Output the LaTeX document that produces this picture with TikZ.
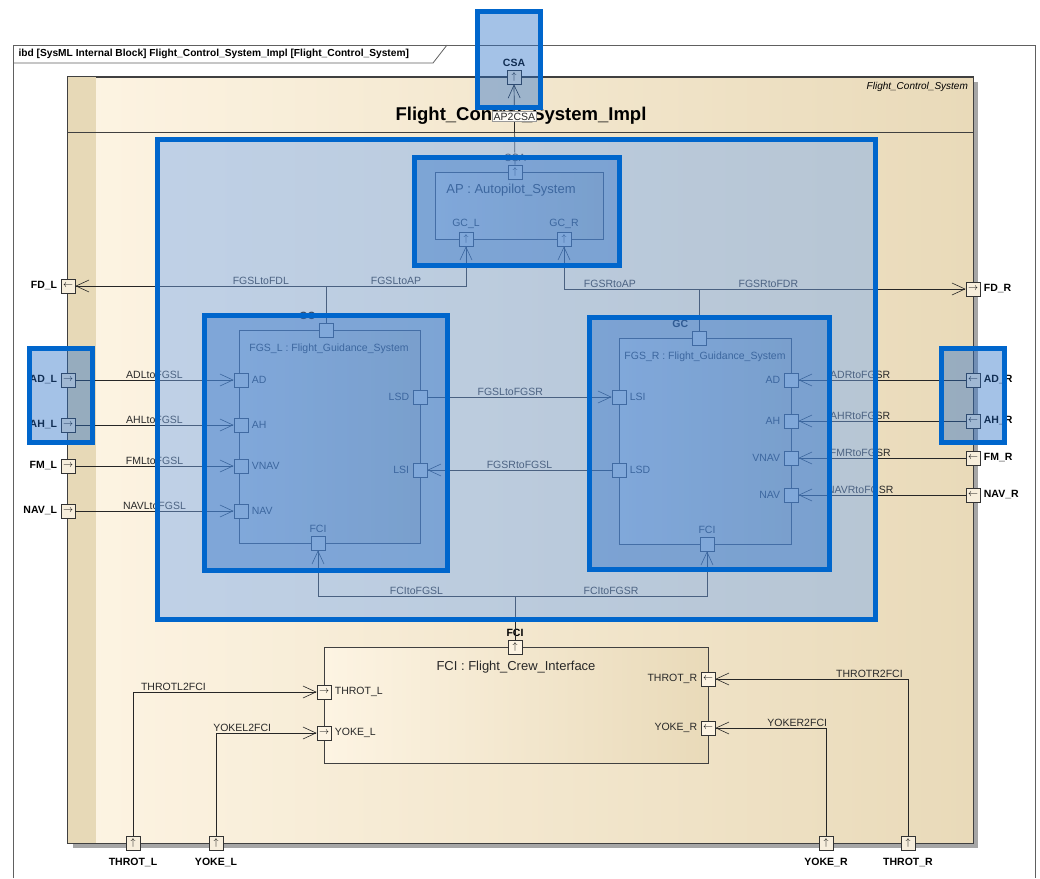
\documentclass[tikz,border=0pt]{standalone}
\usepackage{fontspec}
\setmainfont{Liberation Sans}
\usetikzlibrary{arrows.meta, positioning, calc}
\definecolor{frameC} {RGB}{ 96, 96, 96}
\definecolor{blockL} {RGB}{253,244,227}
\definecolor{blockR} {RGB}{233,218,185}
\definecolor{stripeC}{RGB}{231,217,183}
\definecolor{portC}  {RGB}{247,238,220}
\definecolor{hiC}    {RGB}{  0,102,204}
\definecolor{hiFill} {RGB}{120,170,240}
\definecolor{hiFillB}{RGB}{ 40,110,200}
\definecolor{txtC}   {RGB}{ 40, 40, 40}
\tikzset{
  blk/.style    = {rectangle, draw=black!75, line width=0.8pt, inner sep=0pt,
                   left color=blockL, right color=blockR},
  btitle/.style = {font=\fontsize{13}{15}\selectfont, text=txtC},
  stitle/.style = {font=\fontsize{10.5}{12}\selectfont, text=txtC},
  port/.style   = {rectangle, draw=black!80, fill=portC, line width=0.7pt,
                   minimum size=14pt, inner sep=0pt, font=\fontsize{10}{10}\selectfont},
  iport/.style  = {port, fill=blockL},
  plbl/.style   = {font=\fontsize{10.5}{12}\selectfont, text=txtC},
  xlbl/.style   = {font=\bfseries\fontsize{10.5}{12}\selectfont, text=black},
  conn/.style   = {draw=black!85, line width=0.7pt},
  flow/.style   = {conn, -{Straight Barb[length=13pt, width=12pt, line width=0.6pt]}},
  clbl/.style   = {font=\fontsize{10.5}{12}\selectfont, text=txtC, inner sep=1.5pt},
  hilite/.style = {draw=hiC, line width=5pt, fill=hiFill, fill opacity=0.45},
  hiliteB/.style= {draw=hiC, line width=5pt, fill=hiFillB, fill opacity=0.42},
}

\begin{document}
\begin{tikzpicture}[x=1pt, y=-1pt]
\useasboundingbox (0,0) rectangle (1040,878);
\fill[white] (0,0) rectangle (1040,878);

% ---- Diagram frame ----------------------------------------------------------
\draw[frameC, line width=0.8pt] (13,878) -- (13,45) -- (1035,45) -- (1035,878);
\draw[frameC, line width=0.8pt] (13,63) -- (433,63) -- (447,45);
\node[font=\bfseries\fontsize{10.2}{11}\selectfont, anchor=west] (hdr) at (15,54)
  {ibd [SysML Internal Block] Flight\_Control\_System\_Impl [Flight\_Control\_System]};

% ---- Main block -------------------------------------------------------------
\fill[black!35] (73,82) rectangle (978,848);
\node[blk, minimum width=905pt, minimum height=766pt] (fcs) at (520.5,460) {};
\fill[stripeC] (fcs.north west) rectangle (96,843);
\draw[black!75, line width=0.8pt] (fcs.north west) rectangle (fcs.south east);
\draw[black!75, line width=0.8pt] (fcs.west |- 0,132) -- (fcs.east |- 0,132);
\node[font=\itshape\fontsize{10}{12}\selectfont, anchor=north east] (fcsT)
  at ($(fcs.north east)+(-2,2)$) {Flight\_Control\_System};
\node[font=\bfseries\fontsize{18.5}{20}\selectfont] (fcsN) at (521,116)
  {Flight\_Control\_System\_Impl};

% ---- Parts ------------------------------------------------------------------
\node[blk, minimum width=168pt, minimum height=67pt]  (ap)   at (519,205.5) {};
\node[btitle] at (511,190) {AP : Autopilot\_System};

\node[blk, minimum width=181pt, minimum height=213pt] (fgsl) at (329.5,436.5) {};
\node[stitle] at (329,349) {FGS\_L : Flight\_Guidance\_System};

\node[blk, minimum width=172pt, minimum height=206pt] (fgsr) at (705,441) {};
\node[stitle] at (705,357) {FGS\_R : Flight\_Guidance\_System};

\node[blk, minimum width=384pt, minimum height=116pt] (fci)  at (516,705) {};
\node[btitle] at (516,667) {FCI : Flight\_Crew\_Interface};

% ---- Boundary ports ---------------------------------------------------------
\node[port, label={[xlbl]above:CSA}]              (pCSA)   at (514,77)  {$\uparrow$};
\node[port, label={[xlbl]left:FD\_L}]             (pFDL)   at (68,286)  {$\leftarrow$};
\node[port, label={[xlbl]left:AD\_L}]             (pADL)   at (68,380)  {$\rightarrow$};
\node[port, label={[xlbl]left:AH\_L}]             (pAHL)   at (68,425)  {$\rightarrow$};
\node[port, label={[xlbl]left:FM\_L}]             (pFML)   at (68,466)  {$\rightarrow$};
\node[port, label={[xlbl]left:NAV\_L}]            (pNAVL)  at (68,511)  {$\rightarrow$};
\node[port, label={[xlbl]right:FD\_R}]            (pFDR)   at (973,289) {$\rightarrow$};
\node[port, label={[xlbl]right:AD\_R}]            (pADR)   at (973,380) {$\leftarrow$};
\node[port, label={[xlbl]right:AH\_R}]            (pAHR)   at (973,421) {$\leftarrow$};
\node[port, label={[xlbl]right:FM\_R}]            (pFMR)   at (973,458) {$\leftarrow$};
\node[port, label={[xlbl]right:NAV\_R}]           (pNAVR)  at (973,495) {$\leftarrow$};
\node[port, label={[xlbl, label distance=4pt]below:THROT\_L}] (pTHL) at (133,843) {$\uparrow$};
\node[port, label={[xlbl, label distance=4pt]below:YOKE\_L}]  (pYKL) at (216,843) {$\uparrow$};
\node[port, label={[xlbl, label distance=4pt]below:YOKE\_R}]  (pYKR) at (826,843) {$\uparrow$};
\node[port, label={[xlbl, label distance=4pt]below:THROT\_R}] (pTHR) at (908,843) {$\uparrow$};

% ---- Part ports -------------------------------------------------------------
\node[iport, label={[plbl]above:CSA}]  (aCSA) at (515,172) {$\uparrow$};
\node[iport, label={[plbl]above:GC\_L}] (aGCL) at (466,239) {$\uparrow$};
\node[iport, label={[plbl]above:GC\_R}] (aGCR) at (564,239) {$\uparrow$};

\node[iport, label={[xlbl]above left:GC}] (lGC)   at (326,330) {};
\node[iport, label={[plbl]right:AD}]      (lAD)   at (241,380) {};
\node[iport, label={[plbl]right:AH}]      (lAH)   at (241,425) {};
\node[iport, label={[plbl]right:VNAV}]    (lVNAV) at (241,466) {};
\node[iport, label={[plbl]right:NAV}]     (lNAV)  at (241,511) {};
\node[iport, label={[plbl]left:LSD}]      (lLSD)  at (420,397) {};
\node[iport, label={[plbl]left:LSI}]      (lLSI)  at (420,470) {};
\node[iport, label={[plbl]above:FCI}]     (lFCI)  at (318,543) {};

\node[iport, label={[xlbl]above left:GC}] (rGC)   at (699,338) {};
\node[iport, label={[plbl]right:LSI}]     (rLSI)  at (619,397) {};
\node[iport, label={[plbl]right:LSD}]     (rLSD)  at (619,470) {};
\node[iport, label={[plbl]left:AD}]       (rAD)   at (791,380) {};
\node[iport, label={[plbl]left:AH}]       (rAH)   at (791,421) {};
\node[iport, label={[plbl]left:VNAV}]     (rVNAV) at (791,458) {};
\node[iport, label={[plbl]left:NAV}]      (rNAV)  at (791,495) {};
\node[iport, label={[plbl]above:FCI}]     (rFCI)  at (707,544) {};

\node[iport, label={[xlbl]above:FCI}]        (fFCI) at (515,647) {$\uparrow$};
\node[iport, label={[plbl]right:THROT\_L}]   (fTHL) at (324,692) {$\rightarrow$};
\node[iport, label={[plbl]right:YOKE\_L}]    (fYKL) at (324,733) {$\rightarrow$};
\node[iport, label={[plbl]left:THROT\_R}]    (fTHR) at (708,679) {$\leftarrow$};
\node[iport, label={[plbl]left:YOKE\_R}]     (fYKR) at (708,728) {$\leftarrow$};

% ---- Connectors -------------------------------------------------------------
\draw[flow] (aCSA.north) -- node[clbl, pos=0.6, fill=white!70!blockL, draw=black!40]{AP2CSA} (pCSA.south);

\coordinate (jL) at (lGC.north |- pFDL);
\coordinate (jR) at (rGC.north |- pFDR);
\draw[flow] (lGC.north) |- node[clbl, pos=0.63, above]{FGSLtoFDL} (pFDL.east);
\draw[flow] (jL) -| node[clbl, pos=0.25, above]{FGSLtoAP} (aGCL.south);
\draw[flow] (rGC.north) |- node[clbl, pos=0.63, above]{FGSRtoFDR} (pFDR.west);
\draw[flow] (jR) -| node[clbl, pos=0.33, above]{FGSRtoAP} (aGCR.south);

\draw[flow] (pADL.east)  -- node[clbl, above]{ADLtoFGSL}  (lAD.west);
\draw[flow] (pAHL.east)  -- node[clbl, above]{AHLtoFGSL}  (lAH.west);
\draw[flow] (pFML.east)  -- node[clbl, above]{FMLtoFGSL}  (lVNAV.west);
\draw[flow] (pNAVL.east) -- node[clbl, above]{NAVLtoFGSL} (lNAV.west);

\draw[flow] (pADR.west)  -- node[clbl, pos=0.63, above]{ADRtoFGSR}  (rAD.east);
\draw[flow] (pAHR.west)  -- node[clbl, pos=0.63, above]{AHRtoFGSR}  (rAH.east);
\draw[flow] (pFMR.west)  -- node[clbl, pos=0.63, above]{FMRtoFGSR}  (rVNAV.east);
\draw[flow] (pNAVR.west) -- node[clbl, pos=0.63, above]{NAVRtoFGSR} (rNAV.east);

\draw[flow] (lLSD.east) -- node[clbl, pos=0.45, above]{FGSLtoFGSR} (rLSI.west);
\draw[flow] (rLSD.west) -- node[clbl, pos=0.5,  above]{FGSRtoFGSL} (lLSI.east);

\coordinate (jF) at (fFCI.north |- 0,596);
\draw[conn] (fFCI.north) -- (jF);
\draw[flow] (jF) -| node[clbl, pos=0.25, above]{FCItoFGSL} (lFCI.south);
\draw[flow] (jF) -| node[clbl, pos=0.25, above]{FCItoFGSR} (rFCI.south);

\draw[flow] (pTHL.north) |- node[clbl, pos=0.61, above]{THROTL2FCI} (fTHL.west);
\draw[flow] (pYKL.north) |- node[clbl, pos=0.63, above]{YOKEL2FCI}  (fYKL.west);
\draw[flow] (pTHR.north) |- node[clbl, pos=0.6,  above]{THROTR2FCI} (fTHR.east);
\draw[flow] (pYKR.north) |- node[clbl, pos=0.63, above]{YOKER2FCI}  (fYKR.east);

% ---- Selection highlights ---------------------------------------------------
\draw[hilite]  (157.5,139.5) rectangle (875.5,619.5);
\draw[hiliteB] (414.5,157.5) rectangle (619.5,265.5);
\draw[hiliteB] (204.5,315.5) rectangle (447.5,570.5);
\draw[hiliteB] (589.5,317.5) rectangle (829.5,569.5);
\draw[hiliteB] (477.5,11.5)  rectangle (540.5,107.5);
\draw[hiliteB] (29.5,348.5)  rectangle (92.5,442.5);
\draw[hiliteB] (941.5,348.5) rectangle (1004.5,442.5);

\end{tikzpicture}
\end{document}
